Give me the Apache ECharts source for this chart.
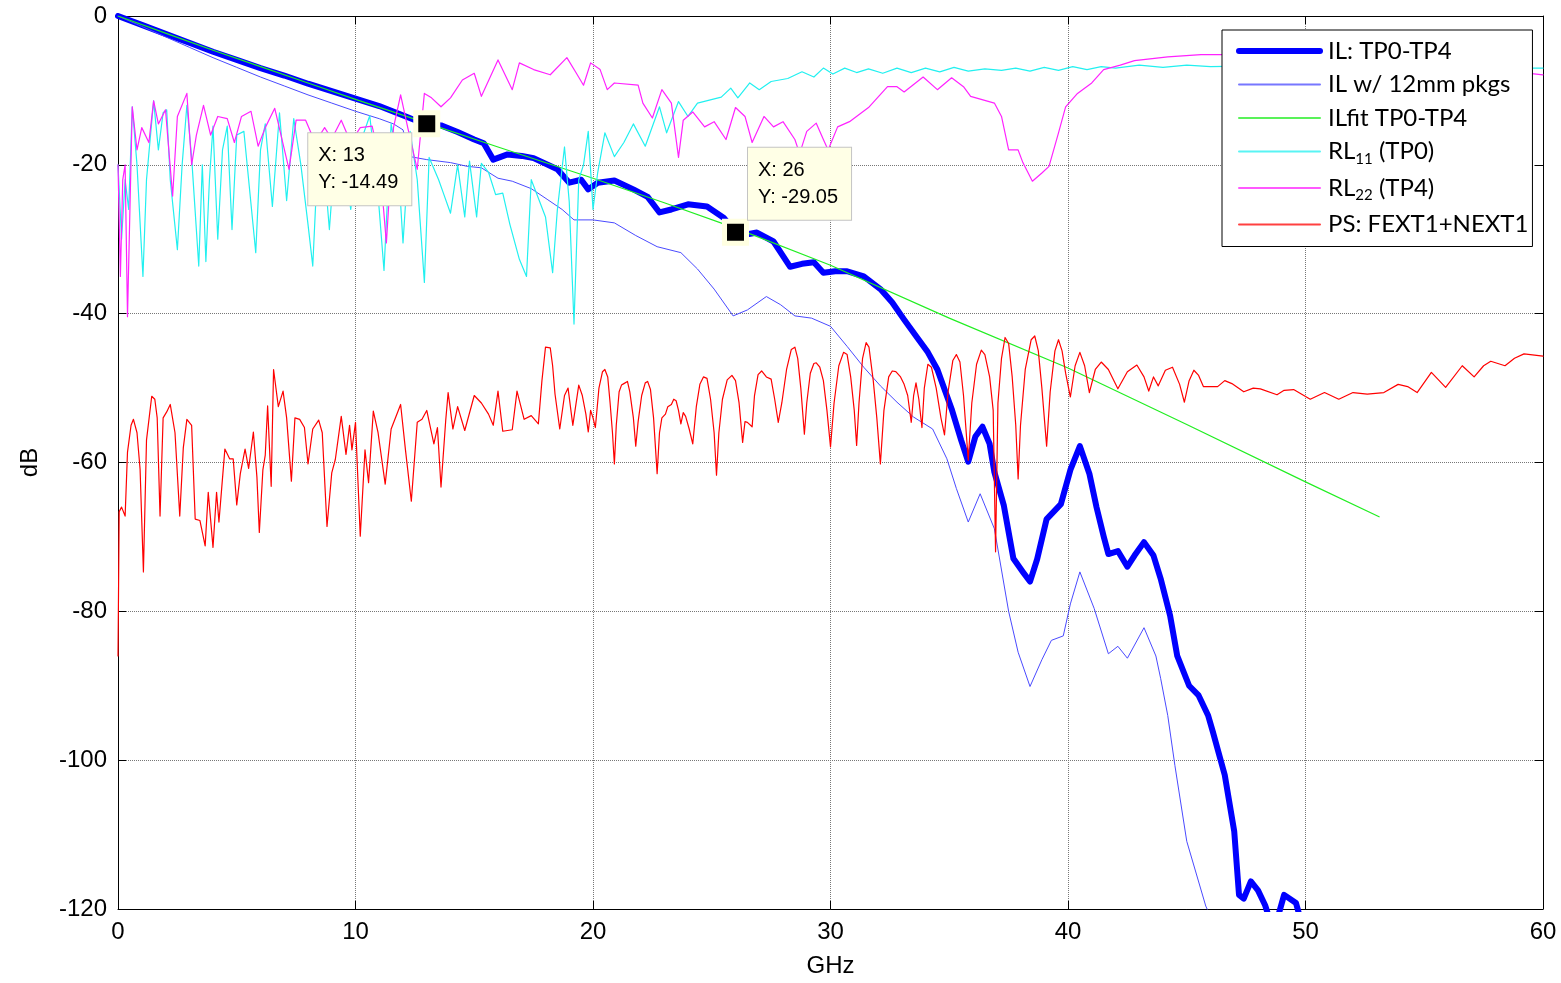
<!DOCTYPE html>
<html>
<head>
<meta charset="utf-8">
<title>IL / RL / PS</title>
<script src="https://cdn.jsdelivr.net/npm/echarts@6/dist/echarts.min.js"></script>
<style>
  html, body { margin: 0; padding: 0; background: #fff; }
  #chart { width: 1561px; height: 983px; }
</style>
</head>
<body>
<div id="chart"></div>
<script>
// axis ticks
const xTicks = [0, 10, 20, 30, 40, 50, 60];
const yTicks = [-120, -100, -80, -60, -40, -20, 0];

// IL: TP0-TP4 (thick blue), [GHz, dB]
const ilMain = [
  [0, 0], [1, -1.2], [2, -2.4], [3, -3.6], [4, -4.8], [5, -5.9], [6, -7.0], [7, -8.0],
  [8, -9.1], [9, -10.1], [10, -11.1], [11, -12.1], [12.2, -13.6], [12.6, -14.1], [13, -14.49],
  [13.6, -14.7], [14.3, -15.6], [15, -16.6], [15.4, -17.1], [15.8, -19.3], [16.4, -18.6],
  [17, -18.8], [17.5, -19.1], [18.5, -20.6], [19, -22.4], [19.5, -22], [19.8, -23.3],
  [20.2, -22.4], [20.9, -22.1], [21.7, -23.3], [22.3, -24.3], [22.8, -26.4], [23.3, -26],
  [24, -25.3], [24.8, -25.6], [25.5, -27.1], [26, -29.05], [26.4, -29.4], [26.9, -29.1],
  [27.6, -30.3], [28.3, -33.7], [28.8, -33.3], [29.3, -33.1], [29.7, -34.5], [30.2, -34.3],
  [30.7, -34.3], [31.4, -35], [32.1, -36.7], [32.6, -38.5], [33.1, -40.8], [33.6, -43],
  [34.1, -45.2], [34.5, -47.5], [35.1, -52.8], [35.5, -57], [35.8, -59.9], [36.1, -56.5],
  [36.4, -55.2], [36.7, -57.5], [36.9, -61.3], [37.3, -65.8], [37.7, -72.9], [38.1, -74.7],
  [38.4, -76], [38.7, -73], [39.1, -67.6], [39.7, -65.6], [40.1, -61], [40.5, -57.8],
  [40.9, -61.5], [41.2, -66], [41.5, -69.9], [41.7, -72.3], [42.1, -71.9], [42.5, -74],
  [42.8, -72.5], [43.2, -70.7], [43.6, -72.5], [43.9, -75.6], [44.3, -80.6], [44.6, -86],
  [45.1, -90], [45.5, -91.3], [45.9, -94], [46.1, -96.2], [46.6, -102], [47, -109.6],
  [47.2, -118.1], [47.4, -118.6], [47.7, -116.3], [48, -117.5], [48.3, -119.5], [48.5, -121.5],
  [48.8, -121.5], [49.1, -118.1], [49.6, -119.2], [49.8, -121.5]
];

// IL w/ 12mm pkgs (thin blue)
const ilPkg = [
  [0, 0], [1, -1.4], [2, -2.8], [3, -4.2], [4, -5.6], [5, -6.9], [6, -8.2], [7, -9.4],
  [8, -10.6], [9, -11.7], [10, -12.8], [11, -13.8], [11.6, -14.5], [12, -15.3], [12.3, -18.9],
  [13, -19.3], [14, -19.7], [14.7, -20.2], [15.3, -20.4], [16, -21.8], [16.6, -22.2],
  [17.4, -23.2], [18.1, -24.7], [18.7, -26], [19.2, -27.4], [20, -27.4], [20.9, -27.8],
  [21.8, -29.5], [22.7, -31], [23.7, -31.8], [24.4, -34], [25.1, -36.7], [25.9, -40.3],
  [26.5, -39.5], [27.3, -37.7], [27.9, -38.8], [28.5, -40.3], [29.2, -40.6], [30, -41.7],
  [30.7, -44.4], [31.4, -47.2], [32.1, -49.7], [32.8, -51.9], [33.5, -53.9], [34.3, -55.5],
  [34.9, -59.5], [35.3, -63.5], [35.8, -68], [36.3, -64.2], [36.9, -68.9], [37.5, -80],
  [37.9, -85.5], [38.4, -90.1], [38.9, -86.5], [39.3, -83.9], [39.8, -83.3], [40.1, -79],
  [40.5, -74.7], [41.1, -79.6], [41.7, -85.7], [42.1, -84.7], [42.5, -86.3], [43.2, -82.2],
  [43.7, -86], [43.9, -89], [44.2, -94], [44.5, -100.7], [45, -110.9], [45.8, -119.6], [46, -121]
];

// ILfit TP0-TP4 (green)
const ilFit = [
  [0, 0], [2, -2.3], [4, -4.6], [6, -6.8], [8, -9], [10, -11.2], [13, -14.4], [16, -17.6],
  [20, -21.8], [23, -25.1], [26, -28.5], [30, -33.5], [35, -40.6], [40, -47.3], [45, -54.9],
  [50, -62.6], [53.1, -67.3]
];

// RL11 (TP0) (cyan)
const rl11 = [
  [0, -20], [0.15, -30], [0.3, -22], [0.45, -26], [0.6, -12.2], [0.8, -20], [1.05, -35],
  [1.2, -22], [1.5, -11.4], [1.7, -18], [1.9, -13], [2.05, -12.6], [2.2, -22], [2.5, -31.4],
  [2.7, -20], [2.9, -12], [3.1, -19], [3.4, -33.6], [3.55, -20], [3.7, -33], [3.85, -22],
  [4, -14.8], [4.2, -30], [4.4, -18], [4.6, -14.8], [4.8, -28.7], [5, -16], [5.3, -15.5],
  [5.5, -22], [5.8, -31.8], [6, -18], [6.2, -14.5], [6.5, -25.6], [6.8, -13], [7.1, -24.8],
  [7.4, -13.8], [7.7, -20], [8, -28], [8.2, -33.6], [8.4, -20], [8.6, -17], [8.9, -28.7],
  [9.2, -15.8], [9.5, -19], [9.8, -26], [10.1, -18], [10.6, -13.4], [10.9, -22], [11.2, -34.2],
  [11.5, -14.5], [11.8, -20], [12, -30.5], [12.3, -15.5], [12.6, -22], [12.9, -35.8],
  [13.1, -19], [13.5, -22], [13.7, -23.8], [14, -26.5], [14.3, -20], [14.6, -27], [14.8, -19.5],
  [15.1, -27], [15.3, -19.8], [15.6, -21], [15.9, -24], [16.2, -23.8], [16.5, -28], [16.9, -32.7],
  [17.2, -35], [17.4, -22], [17.7, -24.5], [18, -27], [18.3, -34.5], [18.5, -26], [18.8, -17.6],
  [19, -25], [19.2, -41.4], [19.4, -22], [19.6, -20], [19.8, -15.5], [20, -26], [20.2, -21],
  [20.5, -15.7], [20.9, -18.9], [21.3, -17], [21.7, -14.5], [22.2, -17.5], [22.8, -12.2],
  [23.1, -15.7], [23.6, -11.5], [24, -13.5], [24.4, -11.7], [24.9, -11.3], [25.4, -10.9],
  [25.8, -9.7], [26.1, -11], [26.6, -9], [27, -9.9], [27.5, -8.8], [28.2, -8.4], [28.8, -7.5],
  [29.3, -8.2], [29.7, -7], [30.1, -7.8], [30.6, -7], [31.1, -7.6], [31.6, -7.1], [32.2, -7.7],
  [32.8, -7], [33.4, -7.6], [34, -7], [34.6, -7.5], [35.2, -6.9], [35.8, -7.4], [36.5, -7.1],
  [37.2, -7.3], [37.8, -7], [38.4, -7.4], [39, -6.9], [39.6, -7.3], [40.2, -6.8], [40.8, -7.2],
  [41.4, -6.8], [42, -7], [43, -6.6], [44, -6.9], [45, -6.6], [46, -6.8], [48, -6.7],
  [50, -6.9], [52, -6.8], [54, -7], [56, -6.8], [58, -7], [60, -7]
];

// RL22 (TP4) (magenta)
const rl22 = [
  [0, -20], [0.1, -35], [0.2, -22], [0.3, -20], [0.4, -40.4], [0.6, -12.2], [0.8, -18],
  [1, -15], [1.3, -17], [1.5, -11.4], [1.7, -14.5], [2, -12.6], [2.3, -24.2], [2.5, -13.5],
  [2.9, -10.4], [3.1, -20], [3.3, -16], [3.6, -12], [3.9, -16], [4.2, -13.5], [4.6, -13.8],
  [4.9, -17], [5.2, -13.5], [5.6, -12.8], [5.9, -17.5], [6.2, -15], [6.6, -12.4], [7.2, -20.6],
  [7.5, -14], [7.9, -14], [8.3, -17], [8.7, -15], [9, -16.5], [9.4, -14], [9.8, -17],
  [10.2, -15], [10.7, -14.8], [11, -19], [11.3, -30.5], [11.6, -15], [11.9, -10.6], [12.2, -15],
  [12.6, -20.6], [12.9, -10.4], [13.2, -11], [13.6, -12.2], [14, -11], [14.5, -8.6], [15, -7.7],
  [15.3, -10.8], [16, -5.9], [16.6, -9.9], [16.9, -6.3], [17.5, -7.2], [18.2, -7.9], [18.9, -5.6],
  [19.3, -7.7], [19.6, -9.3], [19.9, -6.3], [20.3, -7.2], [20.6, -9.9], [20.9, -9], [21.9, -9.3],
  [22.1, -11.7], [22.5, -13.7], [22.9, -9.9], [23.3, -11.7], [23.6, -19], [23.8, -14],
  [24.2, -12.9], [24.7, -14.9], [25.1, -14.2], [25.6, -16.6], [26, -12.3], [26.4, -13.5],
  [26.7, -17], [27.2, -13.5], [27.6, -14.9], [28, -14.2], [28.5, -16.6], [28.7, -18.5],
  [29, -15.5], [29.4, -14.4], [29.7, -16.6], [29.9, -18], [30.3, -14.9], [30.8, -14.2],
  [31.6, -12.3], [32.4, -9.5], [32.8, -9.5], [33.1, -10.2], [33.9, -8.2], [34.5, -9.9],
  [35.1, -8.3], [35.6, -9.5], [35.9, -10.8], [36.9, -11.7], [37.2, -13.5], [37.5, -18],
  [37.9, -18], [38.1, -19.7], [38.5, -22.2], [38.9, -21.1], [39.2, -20.2], [39.6, -15.7],
  [39.9, -12.2], [40.4, -10.4], [41, -9], [41.5, -7.2], [42.2, -6.6], [42.8, -6], [44.2, -5.5],
  [45.6, -5.2], [48, -5.2], [52, -5.5], [56, -6.5], [60, -7.9]
];

// PS: FEXT1+NEXT1 (red)
const psXt = [
  [0, -86], [0.05, -66.6], [0.15, -66], [0.3, -67.2], [0.4, -58.6], [0.55, -55], [0.65, -54.2],
  [0.8, -56], [0.93, -60.9], [1.07, -74.7], [1.2, -57], [1.42, -51.1], [1.55, -51.5], [1.65, -54],
  [1.77, -67.2], [1.9, -54], [2.05, -53.2], [2.2, -52.2], [2.4, -56], [2.6, -67.2], [2.75, -58],
  [2.9, -54.2], [3.1, -55], [3.25, -67.6], [3.45, -67.8], [3.67, -71.2], [3.8, -64], [4, -71.4],
  [4.15, -64], [4.25, -68], [4.5, -58.2], [4.7, -59.5], [4.85, -59.5], [5, -65.7], [5.15, -61.5],
  [5.35, -58.2], [5.5, -60.8], [5.7, -55.9], [5.85, -62], [5.95, -69.4], [6.1, -61], [6.2, -59],
  [6.3, -52.4], [6.45, -63.2], [6.55, -47.5], [6.75, -52.5], [6.95, -50.4], [7.1, -54],
  [7.3, -62.5], [7.45, -54], [7.65, -54.2], [7.85, -55.3], [8, -60.2], [8.2, -55.5],
  [8.45, -54.3], [8.6, -56], [8.8, -68.6], [9, -61.4], [9.15, -59.6], [9.4, -53.8], [9.6, -58.9],
  [9.75, -55], [9.85, -58.3], [10, -54.6], [10.2, -69.9], [10.4, -58.3], [10.55, -62.7],
  [10.75, -53.1], [10.95, -56], [11.25, -62.9], [11.5, -55.5], [11.9, -52.2], [12.1, -58.2],
  [12.35, -65.2], [12.6, -54.6], [12.8, -54.2], [13, -53], [13.3, -57.5], [13.45, -55.3],
  [13.6, -63.3], [13.8, -54.3], [13.9, -50.6], [14.1, -55.5], [14.3, -52.5], [14.6, -55.7],
  [15, -51], [15.3, -52], [15.6, -53.5], [15.8, -55], [16, -50.4], [16.2, -55.8], [16.6, -55.6],
  [16.8, -50.4], [17.1, -54.2], [17.4, -53.7], [17.7, -54.8], [17.85, -49], [18, -44.5],
  [18.2, -44.6], [18.3, -47], [18.4, -50.8], [18.6, -55.5], [18.8, -51], [18.95, -50],
  [19.15, -55], [19.4, -49.6], [19.55, -51], [19.7, -53.5], [19.8, -55.9], [19.9, -53],
  [20, -54], [20.1, -55.3], [20.25, -50], [20.4, -47.8], [20.5, -47.5], [20.62, -48.5],
  [20.72, -52], [20.82, -56], [20.9, -60.2], [20.98, -55], [21.1, -50.5], [21.2, -49.6],
  [21.3, -49.4], [21.45, -49.1], [21.55, -50.5], [21.7, -54], [21.8, -57.8], [21.9, -54.5],
  [22.05, -51], [22.2, -49.3], [22.3, -49.1], [22.42, -50.2], [22.55, -54], [22.7, -61.5],
  [22.8, -56], [22.9, -54], [23.05, -53.5], [23.15, -52.5], [23.3, -52.2], [23.4, -51.5],
  [23.5, -51.7], [23.6, -53], [23.7, -54.8], [23.8, -53.3], [23.9, -53.8], [24.05, -55.5],
  [24.2, -57.5], [24.35, -52.5], [24.5, -49.5], [24.65, -48.5], [24.8, -48.7], [24.95, -51.5],
  [25.1, -56], [25.2, -61.7], [25.3, -56], [25.45, -51.5], [25.65, -48.9], [25.85, -48.3],
  [26, -49], [26.15, -52], [26.3, -57.3], [26.4, -54.5], [26.5, -54.6], [26.7, -55.2],
  [26.8, -51], [26.95, -48.2], [27.1, -47.7], [27.3, -48.5], [27.5, -48.8], [27.65, -51.5],
  [27.8, -54.6], [27.95, -52], [28.15, -47.5], [28.35, -44.8], [28.5, -44.5], [28.62, -46],
  [28.75, -50], [28.9, -56.2], [29, -52], [29.15, -48], [29.3, -46.7], [29.4, -46.6],
  [29.55, -47.2], [29.7, -49], [29.85, -53], [30, -57.9], [30.15, -52], [30.35, -47],
  [30.55, -45.2], [30.7, -45.5], [30.85, -48.5], [31, -53], [31.1, -57.7], [31.2, -52],
  [31.35, -46], [31.5, -43.9], [31.62, -44.5], [31.8, -49], [31.95, -54], [32.1, -60.2],
  [32.25, -53], [32.45, -48.5], [32.6, -47.7], [32.75, -47.8], [32.95, -48.5], [33.1, -49.5],
  [33.25, -51], [33.4, -54.6], [33.5, -51], [33.6, -49.3], [33.72, -51.5], [33.85, -55.3],
  [33.95, -50], [34.1, -46.8], [34.25, -47.2], [34.45, -50], [34.65, -54], [34.8, -56.3],
  [34.95, -50.5], [35.15, -46.3], [35.3, -45.5], [35.45, -46.5], [35.6, -51], [35.8, -59.7],
  [35.95, -52], [36.15, -46.8], [36.35, -44.9], [36.5, -45.5], [36.7, -48.5], [36.85, -53],
  [36.95, -72], [37.05, -52], [37.2, -46], [37.35, -43.2], [37.5, -44], [37.65, -48.5],
  [37.8, -55], [37.9, -62.2], [38, -55], [38.2, -47.5], [38.45, -43.5], [38.6, -43],
  [38.75, -45], [38.9, -50], [39.1, -57.8], [39.25, -50.5], [39.45, -45], [39.6, -43.5],
  [39.75, -45], [39.9, -48], [40.1, -51.2], [40.3, -47], [40.5, -45.2], [40.7, -47],
  [40.9, -50.6], [41.15, -47.5], [41.4, -46.5], [41.7, -47.5], [42.1, -50.1], [42.5, -47.8],
  [42.9, -46.9], [43.2, -48.5], [43.4, -50.4], [43.6, -48.5], [43.8, -49.7], [44.1, -47.6],
  [44.4, -47.2], [44.7, -49.5], [44.9, -51.9], [45.1, -49], [45.3, -47.6], [45.5, -48.3],
  [45.7, -49.8], [46.3, -49.8], [46.6, -49], [46.9, -49.4], [47.4, -50.5], [47.8, -50],
  [48.1, -50.1], [48.8, -50.9], [49.1, -50.3], [49.5, -50.2], [50.2, -51.5], [50.8, -50.6],
  [51.4, -51.5], [52, -50.6], [52.6, -50.8], [53.3, -50.6], [53.9, -49.5], [54.3, -49.8],
  [54.7, -50.6], [55.3, -47.9], [55.9, -49.9], [56.6, -47], [57.1, -48.5], [57.5, -47],
  [57.8, -46.4], [58.4, -47], [58.8, -46], [59.2, -45.4], [60, -45.7]
];

// data tips on the IL curve
const tipPoints = [[13, -14.49], [26, -29.05]];
const tipOffsets = [[-105, 23], [26, -71]];

const chartDom = document.getElementById("chart");
const chart = echarts.init(chartDom, null, { renderer: "canvas" });

const axisFont = "Liberation Sans";
const legendFont = "Lato";

const baseAxis = {
  type: "value",
  axisLine: { show: true, onZero: false, lineStyle: { color: "#000", width: 1 } },
  axisTick: { show: true, inside: true, length: 8, lineStyle: { color: "#000" } },
};

const richLegend = {
  b: { fontSize: 24, lineHeight: 30, fontFamily: legendFont, color: "#000" },
  s: { fontSize: 15, lineHeight: 18, verticalAlign: "bottom", fontFamily: legendFont, color: "#000" },
};

// series look: name, colour, width
const seriesStyle = [
  ["IL: TP0-TP4", "#0000ff", 6],
  ["IL w/ 12mm pkgs", "#4a4aff", 1],
  ["ILfit TP0-TP4", "#22ee22", 1.2],
  ["RL11 (TP0)", "#22f0f0", 1.2],
  ["RL22 (TP4)", "#ff22ff", 1.2],
  ["PS: FEXT1+NEXT1", "#ff0000", 1.2],
];
const seriesData = [ilMain, ilPkg, ilFit, rl11, rl22, psXt];

const option = {
  animation: false,
  backgroundColor: "#fff",
  grid: { left: 118, right: 18, top: 16, bottom: 72, containLabel: false },
  legend: {
    orient: "vertical",
    left: 1222,
    top: 30,
    padding: [9, 4, 10, 14],
    itemWidth: 81,
    itemHeight: 14,
    itemGap: 9.5,
    backgroundColor: "#fff",
    borderColor: "#000",
    borderWidth: 1,
    borderRadius: 0,
    selectedMode: false,
    itemStyle: { opacity: 0 },
    data: seriesStyle.map(([name, color, width]) => ({
      name,
      lineStyle: { width: width > 2 ? 6 : 2, color, opacity: width > 2 ? 1 : 0.75 },
    })),
    textStyle: { padding: [0, 0, 0, 3], rich: richLegend },
    formatter: (name) => {
      const m = name.match(/^RL(\d\d)(.*)$/);
      if (m) return `{b|RL}{s|${m[1]}}{b|${m[2]}}`;
      return `{b|${name}}`;
    },
  },
  xAxis: [
    {
      ...baseAxis,
      position: "bottom",
      min: xTicks[0],
      max: xTicks[xTicks.length - 1],
      interval: 10,
      name: "GHz",
      nameLocation: "middle",
      nameGap: 45,
      nameTextStyle: { fontSize: 24, color: "#000", fontFamily: axisFont },
      axisLabel: { fontSize: 24, color: "#000", margin: 11, fontFamily: axisFont },
      splitLine: { show: true, lineStyle: { type: "dotted", color: "#777", width: 1 } },
    },
    {
      ...baseAxis,
      position: "top",
      min: xTicks[0],
      max: xTicks[xTicks.length - 1],
      interval: 10,
      axisLabel: { show: false },
      splitLine: { show: false },
    },
  ],
  yAxis: [
    {
      ...baseAxis,
      position: "left",
      min: yTicks[0],
      max: yTicks[yTicks.length - 1],
      interval: 20,
      name: "dB",
      nameLocation: "middle",
      nameGap: 76,
      nameTextStyle: { fontSize: 24, color: "#000", fontFamily: axisFont },
      axisLabel: { fontSize: 24, color: "#000", margin: 11, fontFamily: axisFont },
      splitLine: { show: true, lineStyle: { type: "dotted", color: "#777", width: 1 } },
    },
    {
      ...baseAxis,
      position: "right",
      min: yTicks[0],
      max: yTicks[yTicks.length - 1],
      interval: 20,
      axisLabel: { show: false },
      splitLine: { show: false },
    },
  ],
  series: seriesStyle.map(([name, color, width], i) => {
    const s = {
      name,
      type: "line",
      data: seriesData[i],
      symbol: "none",
      lineStyle: { color, width, join: "round", cap: "round" },
      itemStyle: { color },
    };
    if (i === 0) {
      s.markPoint = {
        symbol: "rect",
        symbolSize: 22,
        itemStyle: { color: "#000", borderColor: "#ffffe1", borderWidth: 5 },
        label: {
          show: true,
          color: "#000",
          fontFamily: axisFont,
          fontSize: 20,
          lineHeight: 27,
          align: "left",
          verticalAlign: "top",
          backgroundColor: "#ffffe6",
          borderColor: "#c4c4c4",
          borderWidth: 1,
          padding: [9, 13, 9, 10],
        },
        data: tipPoints.map((p, k) => ({
          coord: p,
          label: {
            position: tipOffsets[k],
            formatter: `X: ${p[0]}\nY: ${p[1].toFixed(2)}`,
          },
        })),
      };
    }
    return s;
  }),
};

chart.setOption(option);
window.addEventListener("resize", () => chart.resize());
</script>
</body>
</html>
